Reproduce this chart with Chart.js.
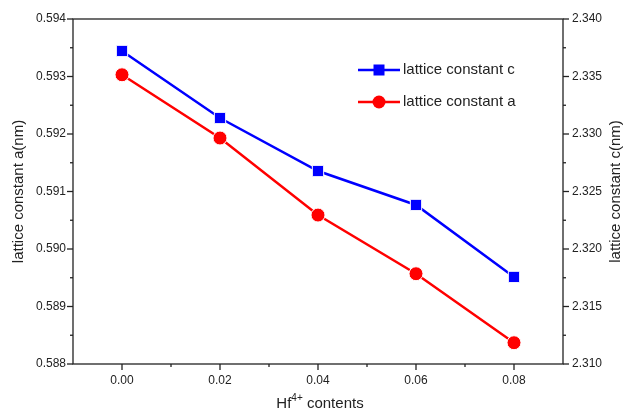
<!DOCTYPE html>
<html>
<head>
<meta charset="utf-8">
<script src="https://cdn.jsdelivr.net/npm/chart.js@4"></script>
<style>
  html, body { margin: 0; padding: 0; background: #fff; }
  #wrap { width: 624px; height: 412px; }
</style>
</head>
<body>
<div id="wrap"><canvas id="latticeChart"></canvas></div>
<script>
// Hf4+ content and measured lattice constants
const contents = [0.00, 0.02, 0.04, 0.06, 0.08];
const latticeC = [2.33722, 2.33139, 2.32678, 2.32383, 2.31757];
const latticeA = [0.59303, 0.59193, 0.59059, 0.58957, 0.58837];

// tick labels
const xTicks = [0.00, 0.02, 0.04, 0.06, 0.08];
const aTicks = [0.588, 0.589, 0.590, 0.591, 0.592, 0.593, 0.594];
const cTicks = [2.310, 2.315, 2.320, 2.325, 2.330, 2.335, 2.340];

const FONT = 'Liberation Sans, Arial, sans-serif';
const INK = '#222';

// frame, major/minor ticks, axis titles and legend
const decorations = {
    id: 'decorations',
    afterDraw(chart) {
        const ctx = chart.ctx;
        const area = chart.chartArea;
        const x = chart.scales.x;
        const yA = chart.scales.y;
        const yC = chart.scales.y1;

        ctx.save();
        ctx.strokeStyle = INK;
        ctx.lineWidth = 1.3;
        ctx.strokeRect(area.left, area.top, area.right - area.left, area.bottom - area.top);

        const tick = (x1, y1, x2, y2) => {
            ctx.beginPath();
            ctx.moveTo(x1, y1);
            ctx.lineTo(x2, y2);
            ctx.stroke();
        };

        // bottom axis
        xTicks.forEach((v) => {
            const px = x.getPixelForValue(v);
            tick(px, area.bottom, px, area.bottom + 6);
            const mid = x.getPixelForValue(v + (xTicks[1] - xTicks[0]) / 2);
            if (mid < area.right) tick(mid, area.bottom, mid, area.bottom + 3);
        });

        // left axis
        aTicks.forEach((v, i) => {
            const py = yA.getPixelForValue(v);
            tick(area.left - 6, py, area.left, py);
            if (i < aTicks.length - 1) {
                const mid = yA.getPixelForValue((v + aTicks[i + 1]) / 2);
                tick(area.left - 3, mid, area.left, mid);
            }
        });

        // right axis
        cTicks.forEach((v, i) => {
            const py = yC.getPixelForValue(v);
            tick(area.right, py, area.right + 6, py);
            if (i < cTicks.length - 1) {
                const mid = yC.getPixelForValue((v + cTicks[i + 1]) / 2);
                tick(area.right, mid, area.right + 3, mid);
            }
        });

        // axis titles
        ctx.fillStyle = INK;
        ctx.textBaseline = 'middle';
        ctx.textAlign = 'center';
        ctx.font = '15px ' + FONT;
        const midY = (area.top + area.bottom) / 2;

        ctx.save();
        ctx.translate(19, midY);
        ctx.rotate(-Math.PI / 2);
        ctx.fillText('lattice constant a(nm)', 0, 0);
        ctx.restore();

        ctx.save();
        ctx.translate(616, midY);
        ctx.rotate(-Math.PI / 2);
        ctx.fillText('lattice constant c(nm)', 0, 0);
        ctx.restore();

        // Hf4+ contents, with superscript
        const big = '15px ' + FONT;
        const small = '10px ' + FONT;
        ctx.font = big;
        const wHf = ctx.measureText('Hf').width;
        const wRest = ctx.measureText(' contents').width;
        ctx.font = small;
        const wSup = ctx.measureText('4+').width;
        let tx = (area.left + area.right) / 2 + 2 - (wHf + wSup + wRest) / 2;
        const ty = 404;
        ctx.textAlign = 'left';
        ctx.font = big;
        ctx.fillText('Hf', tx, ty);
        tx += wHf;
        ctx.font = small;
        ctx.fillText('4+', tx, ty - 6);
        tx += wSup;
        ctx.font = big;
        ctx.fillText(' contents', tx, ty);

        // legend
        ctx.font = '15px ' + FONT;
        chart.data.datasets.forEach((ds, i) => {
            const ly = 70 + i * 32;
            ctx.strokeStyle = ds.borderColor;
            ctx.lineWidth = ds.borderWidth;
            tick(358, ly, 400, ly);
            ctx.fillStyle = ds.borderColor;
            if (ds.pointStyle === 'rect') {
                ctx.fillRect(379 - 5.5, ly - 5.5, 11, 11);
            } else {
                ctx.beginPath();
                ctx.arc(379, ly, 6.5, 0, Math.PI * 2);
                ctx.fill();
            }
            ctx.fillStyle = INK;
            ctx.fillText(ds.label, 403, ly);
        });
        ctx.restore();
    }
};

const tickFont = { family: FONT, size: 12 };

new Chart(document.getElementById('latticeChart'), {
    type: 'line',
    data: {
        labels: contents,
        datasets: [
            {
                label: 'lattice constant c',
                data: contents.map((c, i) => ({ x: c, y: latticeC[i] })),
                yAxisID: 'y1',
                borderColor: '#0000ff',
                backgroundColor: '#0000ff',
                borderWidth: 2.5,
                pointStyle: 'rect',
                pointRadius: 8,
                pointBorderColor: '#fff',
                pointBorderWidth: 1
            },
            {
                label: 'lattice constant a',
                data: contents.map((c, i) => ({ x: c, y: latticeA[i] })),
                yAxisID: 'y',
                borderColor: '#ff0000',
                backgroundColor: '#ff0000',
                borderWidth: 2.5,
                pointStyle: 'circle',
                pointRadius: 7,
                pointBorderColor: '#fff',
                pointBorderWidth: 1
            }
        ]
    },
    options: {
        responsive: true,
        maintainAspectRatio: false,
        animation: false,
        layout: { padding: { top: 19, left: 0, right: 0, bottom: 0 } },
        plugins: {
            legend: { display: false },
            tooltip: { enabled: false }
        },
        scales: {
            x: {
                type: 'linear',
                min: -0.01,
                max: 0.09,
                afterBuildTicks: (scale) => { scale.ticks = xTicks.map(v => ({ value: v })); },
                afterFit: (scale) => { scale.height = 48; },
                grid: { drawOnChartArea: false, drawTicks: false },
                border: { display: false },
                ticks: {
                    padding: 9,
                    color: INK,
                    font: tickFont,
                    maxRotation: 0,
                    callback: (v) => Number(v).toFixed(2)
                }
            },
            y: {
                position: 'left',
                min: 0.588,
                max: 0.594,
                afterBuildTicks: (scale) => { scale.ticks = aTicks.map(v => ({ value: v })); },
                afterFit: (scale) => { scale.width = 73; },
                grid: { drawOnChartArea: false, drawTicks: false },
                border: { display: false },
                ticks: {
                    padding: 7,
                    color: INK,
                    font: tickFont,
                    callback: (v) => Number(v).toFixed(3)
                }
            },
            y1: {
                position: 'right',
                min: 2.310,
                max: 2.340,
                afterBuildTicks: (scale) => { scale.ticks = cTicks.map(v => ({ value: v })); },
                afterFit: (scale) => { scale.width = 61; },
                grid: { drawOnChartArea: false, drawTicks: false },
                border: { display: false },
                ticks: {
                    padding: 9,
                    color: INK,
                    font: tickFont,
                    callback: (v) => Number(v).toFixed(3)
                }
            }
        }
    },
    plugins: [decorations]
});
</script>
</body>
</html>
